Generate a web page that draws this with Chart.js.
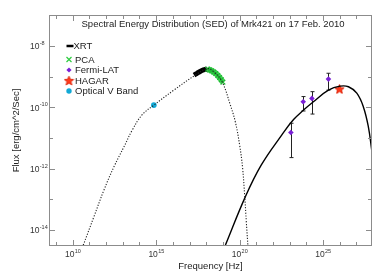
<!DOCTYPE html>
<html>
<head>
<meta charset="utf-8">
<script src="https://cdn.jsdelivr.net/npm/chart.js@4.4.1/dist/chart.umd.min.js"></script>
<style>
  html, body { margin:0; padding:0; background:#fff; }
  #wrap { width:387px; height:277px; }
</style>
</head>
<body>
<div id="wrap"><canvas id="sed" width="387" height="277"></canvas></div>
<script>
// all values are log10 (frequency in Hz, flux in erg/cm^2/s)
const syncNu = [10.63, 11.27, 11.87, 12.47, 13.07, 13.57, 14.15, 14.86, 16.06, 17.35, 18.07, 18.45, 18.95, 19.44, 19.74, 20.00, 20.18, 20.30, 20.40, 20.50];
const syncF  = [-14.50, -13.57, -12.70, -11.94, -11.29, -10.74, -10.25, -9.93, -9.44, -8.95, -8.74, -8.84, -9.17, -9.92, -10.47, -11.23, -11.99, -12.86, -13.73, -14.55];

const icNu = [19.15, 20.34, 21.30, 22.53, 23.23, 23.83, 24.42, 25.32, 26.02, 26.52, 27.02, 27.41, 27.71, 27.92];
const icF  = [-14.49, -12.92, -11.88, -10.90, -10.40, -10.09, -9.82, -9.44, -9.31, -9.33, -9.54, -9.98, -10.63, -11.42];

const xrtNu = [17.27, 17.45, 17.63, 17.83, 18.05];
const xrtF  = [-8.95, -8.89, -8.83, -8.78, -8.75];

const pcaNu = [18.08, 18.20, 18.33, 18.45, 18.57, 18.69, 18.80, 18.90, 19.00];
const pcaF  = [-8.76, -8.78, -8.81, -8.85, -8.90, -8.96, -9.03, -9.10, -9.18];

const latNu   = [23.07, 23.81, 24.33, 25.32];
const latF    = [-10.82, -9.82, -9.71, -9.08];
const latLow  = [-11.64, -10.12, -10.22, -9.44];
const latHigh = [-10.52, -9.65, -9.49, -8.89];

const hagarNu = [25.98];
const hagarF  = [-9.40];

const optNu = [14.86];
const optF  = [-9.93];

const xTickDecades = [9, 10, 11, 12, 13, 14, 15, 16, 17, 18, 19, 20, 21, 22, 23, 24, 25, 26, 27];
const xLabelDecades = [10, 15, 20, 25];
const yTickDecades = [-14, -13, -12, -11, -10, -9, -8];
const yLabelDecades = [-14, -12, -10, -8];

const titleText = "Spectral Energy Distribution (SED) of Mrk421 on 17 Feb. 2010";
const xTitle = "Frequency [Hz]";
const yTitle = "Flux [erg/cm^2/Sec]";
const legendNames = ["XRT", "PCA", "Fermi-LAT", "HAGAR", "Optical V Band"];

const FONT = "'Liberation Sans', Arial, Helvetica, sans-serif";
const FRAME = "#8c8c8c";

const pts = (nu, f) => nu.map((v, i) => ({ x: Math.pow(10, v), y: Math.pow(10, f[i]) }));

// red star marker
function makeStar(size){
  const c = document.createElement("canvas");
  c.width = size; c.height = size;
  const g = c.getContext("2d");
  const r = size / 2 - 0.6, ri = r * 0.45, cx = size / 2, cy = size / 2 + 0.5;
  g.beginPath();
  for (let i = 0; i < 10; i++) {
    const rr = i % 2 ? ri : r;
    const a = -Math.PI / 2 + i * Math.PI / 5;
    g.lineTo(cx + rr * Math.cos(a), cy + rr * Math.sin(a));
  }
  g.closePath();
  g.fillStyle = "#ff3a1a";
  g.fill();
  g.lineWidth = 0.8;
  g.strokeStyle = "#d81a00";
  g.stroke();
  return c;
}
const starImg = makeStar(11);

function drawPow(ctx, x, y, exp, align){
  ctx.font = "8.5px " + FONT;
  const bw = ctx.measureText("10").width;
  ctx.font = "5.5px " + FONT;
  const ew = ctx.measureText(exp).width;
  let x0 = x;
  if (align === "center") x0 = x - (bw + ew) / 2;
  ctx.textBaseline = "middle";
  ctx.textAlign = "left";
  ctx.font = "8.5px " + FONT;
  ctx.fillText("10", x0, y);
  ctx.font = "5.5px " + FONT;
  ctx.fillText(exp, x0 + bw + 0.3, y - 3.5);
}

const decorPlugin = {
  id: "decor",
  beforeDatasetsDraw(chart){
    const { ctx } = chart;
    const xs = chart.scales.x, ys = chart.scales.y;
    ctx.save();
    ctx.strokeStyle = "#222";
    ctx.lineWidth = 1;
    latNu.forEach((nu, i) => {
      const px = Math.round(xs.getPixelForValue(Math.pow(10, nu))) + 0.5;
      const top = ys.getPixelForValue(Math.pow(10, latHigh[i]));
      const bot = ys.getPixelForValue(Math.pow(10, latLow[i]));
      ctx.beginPath();
      ctx.moveTo(px, top); ctx.lineTo(px, bot);
      ctx.moveTo(px - 2, top); ctx.lineTo(px + 2, top);
      ctx.moveTo(px - 2, bot); ctx.lineTo(px + 2, bot);
      ctx.stroke();
    });
    ctx.restore();
  },
  afterDraw(chart){
    const { ctx, chartArea: a } = chart;
    const xs = chart.scales.x, ys = chart.scales.y;
    ctx.save();

    // frame
    ctx.strokeStyle = FRAME;
    ctx.lineWidth = 1;
    ctx.strokeRect(a.left + 0.5, a.top + 0.5, a.right - a.left - 1, a.bottom - a.top - 1);

    // ticks on all four sides, pointing in
    ctx.beginPath();
    xTickDecades.forEach(d => {
      const px = Math.round(xs.getPixelForValue(Math.pow(10, d))) + 0.5;
      const len = xLabelDecades.includes(d) ? 6 : 4;
      ctx.moveTo(px, a.bottom); ctx.lineTo(px, a.bottom - len);
      ctx.moveTo(px, a.top); ctx.lineTo(px, a.top + len);
    });
    yTickDecades.forEach(d => {
      const py = Math.round(ys.getPixelForValue(Math.pow(10, d))) + 0.5;
      const len = yLabelDecades.includes(d) ? 6 : 4;
      ctx.moveTo(a.left, py); ctx.lineTo(a.left + len, py);
      ctx.moveTo(a.right, py); ctx.lineTo(a.right - len, py);
    });
    ctx.stroke();

    // tick labels
    ctx.fillStyle = "#333";
    xLabelDecades.forEach(d => {
      drawPow(ctx, xs.getPixelForValue(Math.pow(10, d)), a.bottom + 9, String(d), "center");
    });
    yLabelDecades.forEach(d => {
      drawPow(ctx, 30, ys.getPixelForValue(Math.pow(10, d)) + 1, "-" + Math.abs(d), "left");
    });

    // axis titles
    ctx.fillStyle = "#222";
    ctx.font = "9.5px " + FONT;
    ctx.textAlign = "center";
    ctx.textBaseline = "middle";
    ctx.fillText(xTitle, (a.left + a.right) / 2, 266);
    ctx.save();
    ctx.translate(16, (a.top + a.bottom) / 2);
    ctx.rotate(-Math.PI / 2);
    ctx.fillText(yTitle, 0, 0);
    ctx.restore();

    // title inside plot
    ctx.font = "9.5px " + FONT;
    ctx.fillText(titleText, 213, a.top + 9.5);

    // legend
    const ly = [46, 59.5, 70, 80.5, 91];
    const mx = 69;
    ctx.textAlign = "left";
    ctx.font = "9.5px " + FONT;
    legendNames.forEach((name, i) => {
      const y = ly[i];
      ctx.fillStyle = "#222";
      ctx.fillText(name, i === 0 ? 73.5 : 75, y + 0.5);
      if (i === 0) {
        ctx.strokeStyle = "#000"; ctx.lineWidth = 2.5;
        ctx.beginPath(); ctx.moveTo(66.5, y); ctx.lineTo(73.5, y); ctx.stroke();
      } else if (i === 1) {
        ctx.strokeStyle = "#2ecc40"; ctx.lineWidth = 1.2;
        ctx.beginPath();
        ctx.moveTo(mx - 2.5, y - 2.5); ctx.lineTo(mx + 2.5, y + 2.5);
        ctx.moveTo(mx + 2.5, y - 2.5); ctx.lineTo(mx - 2.5, y + 2.5);
        ctx.stroke();
      } else if (i === 2) {
        ctx.fillStyle = "#7a1fd6";
        ctx.beginPath();
        ctx.moveTo(mx, y - 2.6); ctx.lineTo(mx + 2.6, y); ctx.lineTo(mx, y + 2.6); ctx.lineTo(mx - 2.6, y);
        ctx.closePath(); ctx.fill();
      } else if (i === 3) {
        ctx.drawImage(starImg, mx - 5.5, y - 5.5);
      } else {
        ctx.fillStyle = "#12a9d6";
        ctx.beginPath(); ctx.arc(mx, y, 2.7, 0, Math.PI * 2); ctx.fill();
      }
    });
    ctx.restore();
  }
};

new Chart(document.getElementById("sed"), {
  type: "scatter",
  data: {
    datasets: [
      { label: "Synchrotron", data: pts(syncNu, syncF), showLine: true, borderColor: "#222", borderWidth: 1.1,
        borderDash: [1.2, 1.6], pointRadius: 0, tension: 0.4 },
      { label: "IC", data: pts(icNu, icF), showLine: true, borderColor: "#000", borderWidth: 1.4,
        pointRadius: 0, tension: 0.4 },
      { label: "PCA", data: pts(pcaNu, pcaF), showLine: true, borderColor: "#3fd352", borderWidth: 6,
        pointStyle: "crossRot", pointRadius: 3.3, pointBorderColor: "#22b836", pointBorderWidth: 1.2, tension: 0.3 },
      { label: "XRT", data: pts(xrtNu, xrtF), showLine: true, borderColor: "#000", borderWidth: 5,
        borderCapStyle: "butt", pointRadius: 0, tension: 0.3 },
      { label: "Fermi-LAT", data: pts(latNu, latF), pointStyle: "rectRot", pointRadius: 2.8,
        backgroundColor: "#7a1fd6", borderColor: "#7a1fd6", borderWidth: 0 },
      { label: "HAGAR", data: pts(hagarNu, hagarF), pointStyle: starImg },
      { label: "Optical V Band", data: pts(optNu, optF), pointStyle: "circle", pointRadius: 2.8,
        backgroundColor: "#12a9d6", borderColor: "#12a9d6", borderWidth: 0 }
    ]
  },
  options: {
    responsive: false,
    devicePixelRatio: 1,
    animation: false,
    layout: { padding: { left: 49, top: 15, right: 15, bottom: 31 } },
    plugins: { legend: { display: false }, tooltip: { enabled: false } },
    scales: {
      x: { type: "logarithmic", display: false, min: Math.pow(10, 8.58), max: Math.pow(10, 27.93) },
      y: { type: "logarithmic", display: false, min: Math.pow(10, -14.52), max: Math.pow(10, -6.99) }
    }
  },
  plugins: [decorPlugin]
});
</script>
</body>
</html>
